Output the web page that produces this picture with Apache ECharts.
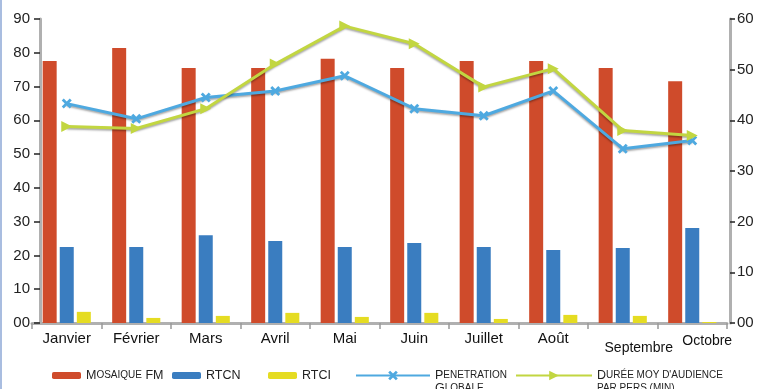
<!DOCTYPE html>
<html>
<head>
<meta charset="utf-8">
<script src="https://cdn.jsdelivr.net/npm/echarts@6/dist/echarts.min.js"></script>
<style>
html, body { margin: 0; padding: 0; background: #fff; }
#chart { width: 758px; height: 389px; }
#edge { position: absolute; left: 0; top: 0; width: 2px; height: 389px; background: #a9bde0; }
</style>
</head>
<body>
<div id="chart"></div>
<div id="edge"></div>
<script>
const months = ['Janvier', 'Février', 'Mars', 'Avril', 'Mai', 'Juin', 'Juillet', 'Août', 'Septembre', 'Octobre'];

// left axis (%)
const mosaiqueFM = [77.6, 81.4, 75.5, 75.5, 78.2, 75.5, 77.6, 77.6, 75.5, 71.6];
const rtcn = [22.5, 22.5, 26.0, 24.3, 22.5, 23.7, 22.5, 21.6, 22.2, 28.1];
const rtci = [3.3, 1.5, 2.1, 3.0, 1.8, 3.0, 1.2, 2.4, 2.1, 0.3];

// right axis
const penetration = [43.3, 40.3, 44.5, 45.8, 48.8, 42.3, 40.9, 45.8, 34.4, 36.0];
const dureeMoy = [38.8, 38.4, 42.3, 51.1, 58.6, 55.1, 46.6, 50.2, 38.0, 37.0];

const leftTicks = { min: 0, max: 90, step: 10 };
const rightTicks = { min: 0, max: 60, step: 10 };

const FONT = 'Liberation Sans, Arial, sans-serif';
const xMark = 'path://M2,0L5,3L8,0L10,2L7,5L10,8L8,10L5,7L2,10L0,8L3,5L0,2Z';

const legendRich = {
    a: { fontSize: 12.5, fontFamily: FONT, color: '#222', lineHeight: 13 },
    b: { fontSize: 10, fontFamily: FONT, color: '#222', lineHeight: 13 }
};
const legendNames = {
    'Mosaique FM': '{a|M}{b|OSAIQUE}{a| FM}',
    'RTCN': '{a|RTCN}',
    'RTCI': '{a|RTCI}',
    'Penetration Globale': ' \n{a|P}{b|ENETRATION}\n{a|G}{b|LOBALE}',
    'Durée moy': ' \n{a|D}{b|URÉE MOY D\'AUDIENCE}\n{b|PAR PERS.(MIN)}'
};

function legendFor(name, left, top, w, h) {
    return {
        data: [name],
        left: left,
        top: top,
        padding: 0,
        itemWidth: w,
        itemHeight: h,
        selectedMode: false,
        formatter: n => legendNames[n],
        textStyle: { fontFamily: FONT, lineHeight: 13, rich: legendRich }
    };
}

const chart = echarts.init(document.getElementById('chart'), null, { renderer: 'canvas' });

const barCommon = { type: 'bar', barWidth: 14, barGap: '22%', yAxisIndex: 0 };
const lineShadow = { shadowColor: 'rgba(0,0,0,0.35)', shadowBlur: 2, shadowOffsetY: 1.5 };

chart.setOption({
    animation: false,
    backgroundColor: '#fff',
    textStyle: { fontFamily: FONT },
    grid: { left: 32, right: 31, top: 19, bottom: 66 },
    legend: [
        legendFor('Mosaique FM', 52, 369, 29, 7),
        legendFor('RTCN', 172, 369, 29, 7),
        legendFor('RTCI', 268, 369, 29, 7),
        legendFor('Penetration Globale', 355, 356, 74, 12),
        legendFor('Durée moy', 515, 356, 76, 12)
    ],
    xAxis: {
        type: 'category',
        data: months,
        axisLine: { lineStyle: { color: '#b0b0b0', width: 3 } },
        axisTick: { show: true, length: 6, lineStyle: { color: '#999', width: 1.5 } },
        axisLabel: {
            interval: 0,
            margin: 8,
            fontSize: 15,
            color: '#111',
            formatter: v => v === 'Septembre' ? '{s|Septembre}' : v === 'Octobre' ? '{o|Octobre}' : v,
            rich: {
                s: { fontSize: 14, color: '#111', padding: [10, 0, 0, 32] },
                o: { fontSize: 14, color: '#111', padding: [3, 0, 0, 30] }
            }
        }
    },
    yAxis: [
        {
            type: 'value',
            position: 'left',
            offset: -8,
            min: leftTicks.min,
            max: leftTicks.max,
            interval: leftTicks.step,
            splitLine: { show: false },
            axisLine: { show: true, lineStyle: { color: '#b0b0b0', width: 3 } },
            axisTick: { show: true, length: 6, lineStyle: { color: '#222', width: 1.5 } },
            axisLabel: { fontSize: 15, color: '#222', margin: 10, formatter: v => v === 0 ? '00' : v }
        },
        {
            type: 'value',
            position: 'right',
            offset: 3,
            min: rightTicks.min,
            max: rightTicks.max,
            interval: rightTicks.step,
            splitLine: { show: false },
            axisLine: { show: true, lineStyle: { color: '#b0b0b0', width: 3 } },
            axisTick: { show: true, length: 5, lineStyle: { color: '#222', width: 1.5 } },
            axisLabel: { fontSize: 15, color: '#222', margin: 7, formatter: v => v === 0 ? '00' : v }
        }
    ],
    series: [
        { ...barCommon, name: 'Mosaique FM', data: mosaiqueFM, itemStyle: { color: '#cf4b2b' } },
        { ...barCommon, name: 'RTCN', data: rtcn, itemStyle: { color: '#3a7dc0' } },
        { ...barCommon, name: 'RTCI', data: rtci, itemStyle: { color: '#e5dc22' } },
        {
            type: 'line',
            name: 'Penetration Globale',
            yAxisIndex: 1,
            data: penetration,
            symbol: xMark,
            symbolSize: 10,
            lineStyle: { color: '#4ea9e0', width: 3, ...lineShadow },
            itemStyle: { color: '#4ea9e0' }
        },
        {
            type: 'line',
            name: 'Durée moy',
            yAxisIndex: 1,
            data: dureeMoy,
            symbol: 'triangle',
            symbolRotate: -90,
            symbolSize: 11,
            lineStyle: { color: '#c2d641', width: 3, ...lineShadow },
            itemStyle: { color: '#c2d641' }
        }
    ]
});
</script>
</body>
</html>
